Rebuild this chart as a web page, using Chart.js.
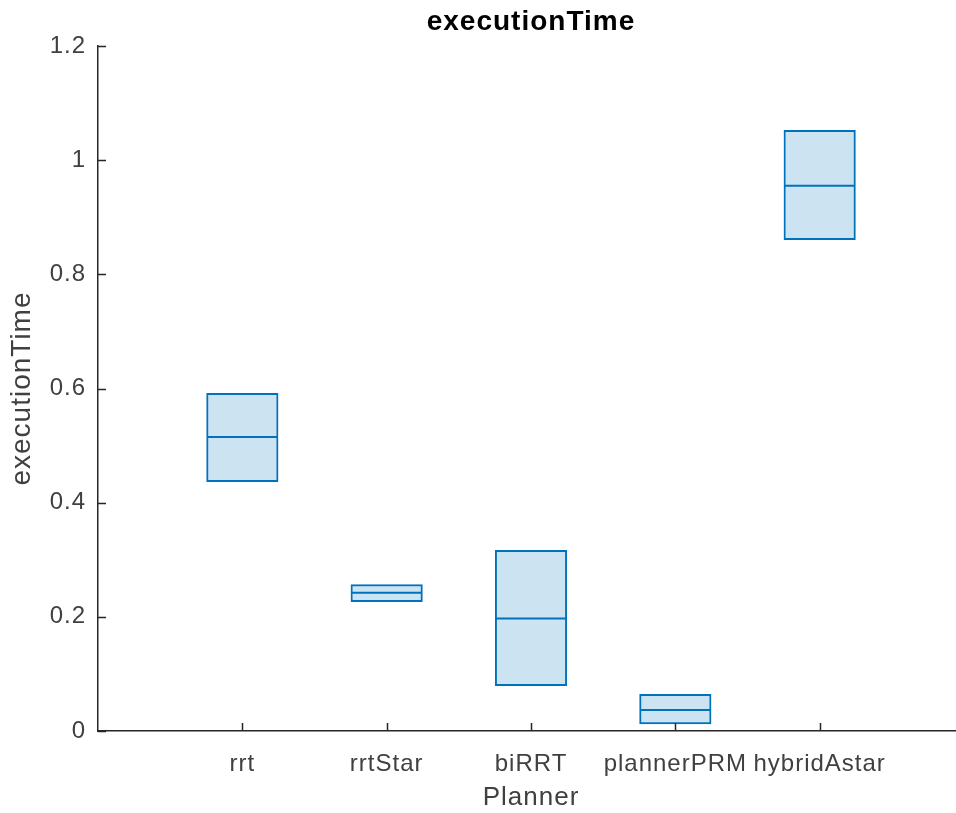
<!DOCTYPE html>
<html>
<head>
<meta charset="utf-8">
<script src="https://cdn.jsdelivr.net/npm/chart.js@4"></script>
<style>
  html, body { margin: 0; padding: 0; background: #fff; overflow: hidden; }
  #wrap { width: 966px; height: 813px; position: relative; }
</style>
</head>
<body>
<div id="wrap"><canvas id="c"></canvas></div>
<script>
const categories = ['rrt', 'rrtStar', 'biRRT', 'plannerPRM', 'hybridAstar'];
const q1Values = [0.436, 0.226, 0.079, 0.012, 0.860];
const medianValues = [0.515, 0.242, 0.197, 0.037, 0.955];
const q3Values = [0.592, 0.257, 0.317, 0.065, 1.053];
const yTickValues = [0, 0.2, 0.4, 0.6, 0.8, 1, 1.2];
const chartTitle = 'executionTime';

const BLUE = '#0072BD';
const AXIS = '#262626';
const TEXT = '#404040';
const FONT = '"Liberation Sans", Arial, Helvetica, sans-serif';

const spacingPlugin = {
  id: 'spacing',
  beforeDraw(chart) { chart.ctx.letterSpacing = '1px'; }
};

const titlePlugin = {
  id: 'centerTitle',
  afterDraw(chart) {
    const ctx = chart.ctx;
    const a = chart.chartArea;
    ctx.save();
    ctx.letterSpacing = '1px';
    ctx.fillStyle = '#000';
    ctx.font = 'bold 28px ' + FONT;
    ctx.textAlign = 'center';
    ctx.textBaseline = 'middle';
    ctx.fillText(chartTitle, (a.left + a.right) / 2, 22);
    ctx.restore();
  }
};

const medianPlugin = {
  id: 'medians',
  afterDatasetsDraw(chart) {
    const ctx = chart.ctx;
    const meta = chart.getDatasetMeta(0);
    const ys = chart.scales.y;
    ctx.save();
    ctx.strokeStyle = BLUE;
    ctx.lineWidth = 2;
    meta.data.forEach((bar, i) => {
      const y = ys.getPixelForValue(medianValues[i]);
      const half = bar.width / 2;
      ctx.beginPath();
      ctx.moveTo(bar.x - half + 1, y);
      ctx.lineTo(bar.x + half - 1, y);
      ctx.stroke();
    });
    ctx.restore();
  }
};

const inwardTicks = {
  id: 'inwardTicks',
  afterDraw(chart) {
    const ctx = chart.ctx;
    const xs = chart.scales.x, ys = chart.scales.y;
    const area = chart.chartArea;
    ctx.save();
    ctx.strokeStyle = AXIS;
    ctx.lineWidth = 1.5;
    ctx.beginPath();
    yTickValues.forEach(v => {
      const y = Math.round(ys.getPixelForValue(v)) + 0.5;
      ctx.moveTo(area.left, y);
      ctx.lineTo(area.left + 8, y);
    });
    categories.forEach((c, i) => {
      const x = Math.round(xs.getPixelForValue(i + 1)) + 0.5;
      ctx.moveTo(x, area.bottom);
      ctx.lineTo(x, area.bottom - 8);
    });
    ctx.stroke();
    ctx.restore();
  }
};

new Chart(document.getElementById('c'), {
  type: 'bar',
  data: {
    datasets: [{
      label: 'executionTime',
      data: categories.map((c, i) => ({ x: i + 1, y: [q1Values[i], q3Values[i]] })),
      backgroundColor: 'rgba(0,114,189,0.2)',
      borderColor: BLUE,
      borderWidth: 2,
      borderSkipped: false,
      barPercentage: 0.5,
      categoryPercentage: 1.0
    }]
  },
  options: {
    responsive: true,
    maintainAspectRatio: false,
    animation: false,
    layout: { padding: { left: 0, right: 2, top: 46, bottom: 0 } },
    plugins: {
      legend: { display: false },
      tooltip: { enabled: false },
      title: { display: false }
    },
    scales: {
      x: {
        type: 'linear',
        min: 0,
        max: 6,
        offset: false,
        afterFit(scale) { scale.height = 82; },
        afterBuildTicks(scale) { scale.ticks = categories.map((c, i) => ({ value: i + 1 })); },
        grid: { display: false, drawTicks: false, tickLength: 0 },
        border: { display: true, color: AXIS, width: 1.5 },
        ticks: {
          autoSkip: false,
          maxRotation: 0,
          padding: 19,
          color: TEXT,
          font: { family: FONT, size: 24 },
          callback: (v) => categories[v - 1] ?? ''
        },
        title: {
          display: true,
          text: 'Planner',
          color: TEXT,
          font: { family: FONT, size: 26 },
          padding: { top: 0, bottom: 0 }
        }
      },
      y: {
        min: 0,
        max: 1.2,
        afterFit(scale) { scale.width = 98; },
        afterBuildTicks(scale) { scale.ticks = yTickValues.map(v => ({ value: v })); },
        grid: { display: false, drawTicks: false, tickLength: 0 },
        border: { display: true, color: AXIS, width: 1.5 },
        ticks: {
          padding: 12,
          color: TEXT,
          font: { family: FONT, size: 24 },
          callback: (v) => String(+(+v).toFixed(1))
        },
        title: {
          display: true,
          text: 'executionTime',
          color: TEXT,
          font: { family: FONT, size: 28 },
          padding: { top: 5, bottom: 0 }
        }
      }
    }
  },
  plugins: [spacingPlugin, titlePlugin, medianPlugin, inwardTicks]
});
</script>
</body>
</html>
